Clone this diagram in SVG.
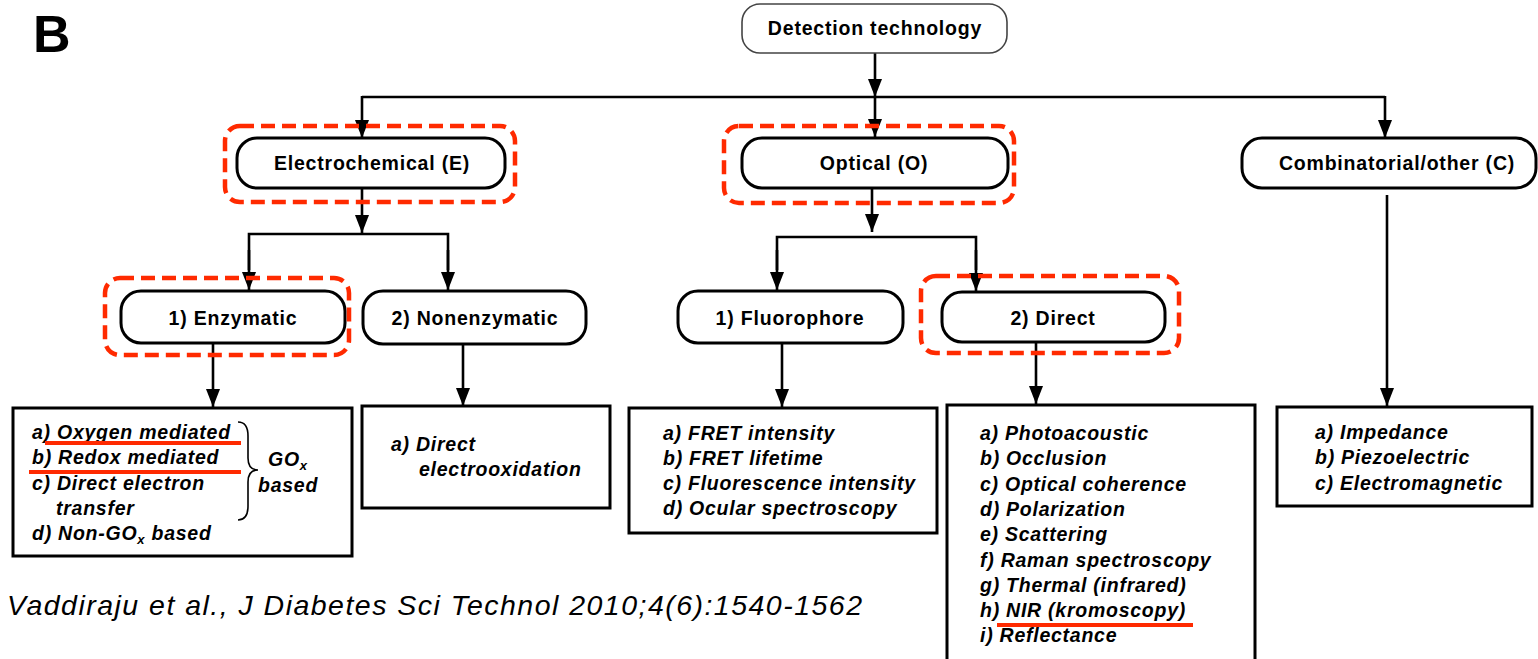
<svg xmlns="http://www.w3.org/2000/svg" width="1538" height="659" viewBox="0 0 1538 659">
  <style>
    .node { fill: #fff; stroke: #000; stroke-width: 3; }
    .root { fill: #fff; stroke: #444; stroke-width: 1.6; }
    .list { fill: #fff; stroke: #000; stroke-width: 3; }
    .hl { fill: none; stroke: #ff2a00; stroke-width: 4.5; stroke-dasharray: 14 7; }
    .ul { stroke: #ff2a00; stroke-width: 4; }
    .conn { fill: none; stroke: #000; stroke-width: 2.6; }
    .lbl { font-family: "Liberation Sans", Arial, sans-serif; font-weight: bold; font-size: 19.5px; letter-spacing: 0.8px; text-anchor: middle; fill: #000; }
    .item { font-family: "Liberation Sans", Arial, sans-serif; font-weight: bold; font-style: italic; font-size: 19.5px; letter-spacing: 0.75px; fill: #000; }
    .sub { font-size: 13px; }
  </style>
  <defs>
    <marker id="arrow" viewBox="0 0 18 14" refX="18" refY="7" markerWidth="18" markerHeight="14" markerUnits="userSpaceOnUse" orient="auto">
      <path d="M0,0 L18,7 L0,14 Z" fill="#000"/>
    </marker>
  </defs>

  <!-- panel letter -->
  <text x="33" y="52" font-family="Liberation Sans, Arial, sans-serif" font-weight="bold" font-size="52">B</text>

  <!-- connectors -->
  <g id="connectors">
    <line class="conn" x1="875" y1="53" x2="875" y2="97" marker-end="url(#arrow)"/>
    <line class="conn" x1="875" y1="97" x2="875" y2="137" marker-end="url(#arrow)"/>
    <polyline class="conn" points="362,97 1385,97"/>
    <line class="conn" x1="362" y1="96" x2="362" y2="138" marker-end="url(#arrow)"/>
    <line class="conn" x1="1385" y1="96" x2="1385" y2="138" marker-end="url(#arrow)"/>

    <line class="conn" x1="362" y1="188" x2="362" y2="233" marker-end="url(#arrow)"/>
    <polyline class="conn" points="249,270 249,234 448,234 448,270" />
    <line class="conn" x1="249" y1="250" x2="249" y2="290" marker-end="url(#arrow)"/>
    <line class="conn" x1="448" y1="250" x2="448" y2="290" marker-end="url(#arrow)"/>

    <line class="conn" x1="872" y1="188" x2="872" y2="232" marker-end="url(#arrow)"/>
    <polyline class="conn" points="777,270 777,237 976,237 976,270" />
    <line class="conn" x1="777" y1="250" x2="777" y2="290" marker-end="url(#arrow)"/>
    <line class="conn" x1="976" y1="250" x2="976" y2="291" marker-end="url(#arrow)"/>

    <line class="conn" x1="213" y1="343" x2="213" y2="407" marker-end="url(#arrow)"/>
    <line class="conn" x1="463" y1="345" x2="463" y2="406" marker-end="url(#arrow)"/>
    <line class="conn" x1="782" y1="343" x2="782" y2="407" marker-end="url(#arrow)"/>
    <line class="conn" x1="1036" y1="342" x2="1036" y2="404" marker-end="url(#arrow)"/>
    <line class="conn" x1="1387" y1="195" x2="1387" y2="406" marker-end="url(#arrow)"/>
  </g>

  <!-- root -->
  <g id="node-detection">
    <rect class="root" x="742" y="4" width="265" height="49" rx="18"/>
    <text class="lbl" x="875" y="35">Detection technology</text>
  </g>

  <!-- level 1 -->
  <g id="node-electrochemical">
    <rect class="node" x="237" y="138" width="268" height="50" rx="20"/>
    <text class="lbl" x="372" y="170">Electrochemical (E)</text>
    <rect class="hl" x="225" y="126" width="290" height="76" rx="15"/>
  </g>
  <g id="node-optical">
    <rect class="node" x="742" y="138" width="266" height="50" rx="20"/>
    <text class="lbl" x="874" y="170">Optical (O)</text>
    <rect class="hl" x="724" y="126" width="290" height="77" rx="15"/>
  </g>
  <g id="node-combinatorial">
    <rect class="node" x="1242" y="138" width="294" height="50" rx="20"/>
    <text class="lbl" x="1397" y="170">Combinatorial/other (C)</text>
  </g>

  <!-- level 2 -->
  <g id="node-enzymatic">
    <rect class="node" x="121" y="291" width="224" height="52" rx="20"/>
    <text class="lbl" x="233" y="325">1) Enzymatic</text>
    <rect class="hl" x="105" y="278" width="244" height="77" rx="15"/>
  </g>
  <g id="node-nonenzymatic">
    <rect class="node" x="363" y="291" width="223" height="53" rx="20"/>
    <text class="lbl" x="475" y="325">2) Nonenzymatic</text>
  </g>
  <g id="node-fluorophore">
    <rect class="node" x="678" y="291" width="225" height="52" rx="20"/>
    <text class="lbl" x="790" y="325">1) Fluorophore</text>
  </g>
  <g id="node-direct">
    <rect class="node" x="942" y="292" width="223" height="50" rx="20"/>
    <text class="lbl" x="1053" y="325">2) Direct</text>
    <rect class="hl" x="921" y="276" width="258" height="77" rx="15"/>
  </g>

  <!-- lists -->
  <g id="list-enzymatic">
    <rect class="list" x="13" y="408" width="339" height="148"/>
    <text class="item" x="32" y="439">a) Oxygen mediated</text>
    <text class="item" x="32" y="464">b) Redox mediated</text>
    <text class="item" x="32" y="490">c) Direct electron</text>
    <text class="item" x="56" y="515">transfer</text>
    <text class="item" x="32" y="540">d) Non-GO<tspan class="sub" dy="4">x</tspan><tspan dy="-4"> based</tspan></text>
    <line class="ul" x1="45" y1="443" x2="241" y2="443"/>
    <line class="ul" x1="29" y1="472" x2="241" y2="472"/>
    <path d="M238,422 C246,422 248,428 248,436 L248,458 C248,466 252,470 258,470 C252,470 248,474 248,482 L248,506 C248,514 246,520 238,520" fill="none" stroke="#000" stroke-width="1.6"/>
    <text class="item" x="268" y="466">GO<tspan class="sub" dy="4">x</tspan></text>
    <text class="item" x="258" y="492">based</text>
  </g>
  <g id="list-nonenzymatic">
    <rect class="list" x="362" y="406" width="248" height="102"/>
    <text class="item" x="391" y="451">a) Direct</text>
    <text class="item" x="419" y="476">electrooxidation</text>
  </g>
  <g id="list-fluorophore">
    <rect class="list" x="629" y="408" width="308" height="125"/>
    <text class="item" x="663" y="440">a) FRET intensity</text>
    <text class="item" x="663" y="465">b) FRET lifetime</text>
    <text class="item" x="663" y="490">c) Fluorescence intensity</text>
    <text class="item" x="663" y="515">d) Ocular spectroscopy</text>
  </g>
  <g id="list-direct">
    <rect class="list" x="947" y="405" width="308" height="270"/>
    <text class="item" x="980" y="440">a) Photoacoustic</text>
    <text class="item" x="980" y="465">b) Occlusion</text>
    <text class="item" x="980" y="491">c) Optical coherence</text>
    <text class="item" x="980" y="516">d) Polarization</text>
    <text class="item" x="980" y="541">e) Scattering</text>
    <text class="item" x="980" y="567">f) Raman spectroscopy</text>
    <text class="item" x="980" y="592">g) Thermal (infrared)</text>
    <text class="item" x="980" y="617">h) NIR (kromoscopy)</text>
    <text class="item" x="980" y="642">i) Reflectance</text>
    <line class="ul" x1="997" y1="625" x2="1193" y2="625"/>
  </g>
  <g id="list-combinatorial">
    <rect class="list" x="1277" y="407" width="255" height="99"/>
    <text class="item" x="1315" y="439">a) Impedance</text>
    <text class="item" x="1315" y="464">b) Piezoelectric</text>
    <text class="item" x="1315" y="490">c) Electromagnetic</text>
  </g>

  <!-- citation -->
  <text x="7" y="615" font-family="Liberation Sans, Arial, sans-serif" font-style="italic" font-size="28.5" textLength="855" lengthAdjust="spacing">Vaddiraju et al., J Diabetes Sci Technol 2010;4(6):1540-1562</text>
</svg>
